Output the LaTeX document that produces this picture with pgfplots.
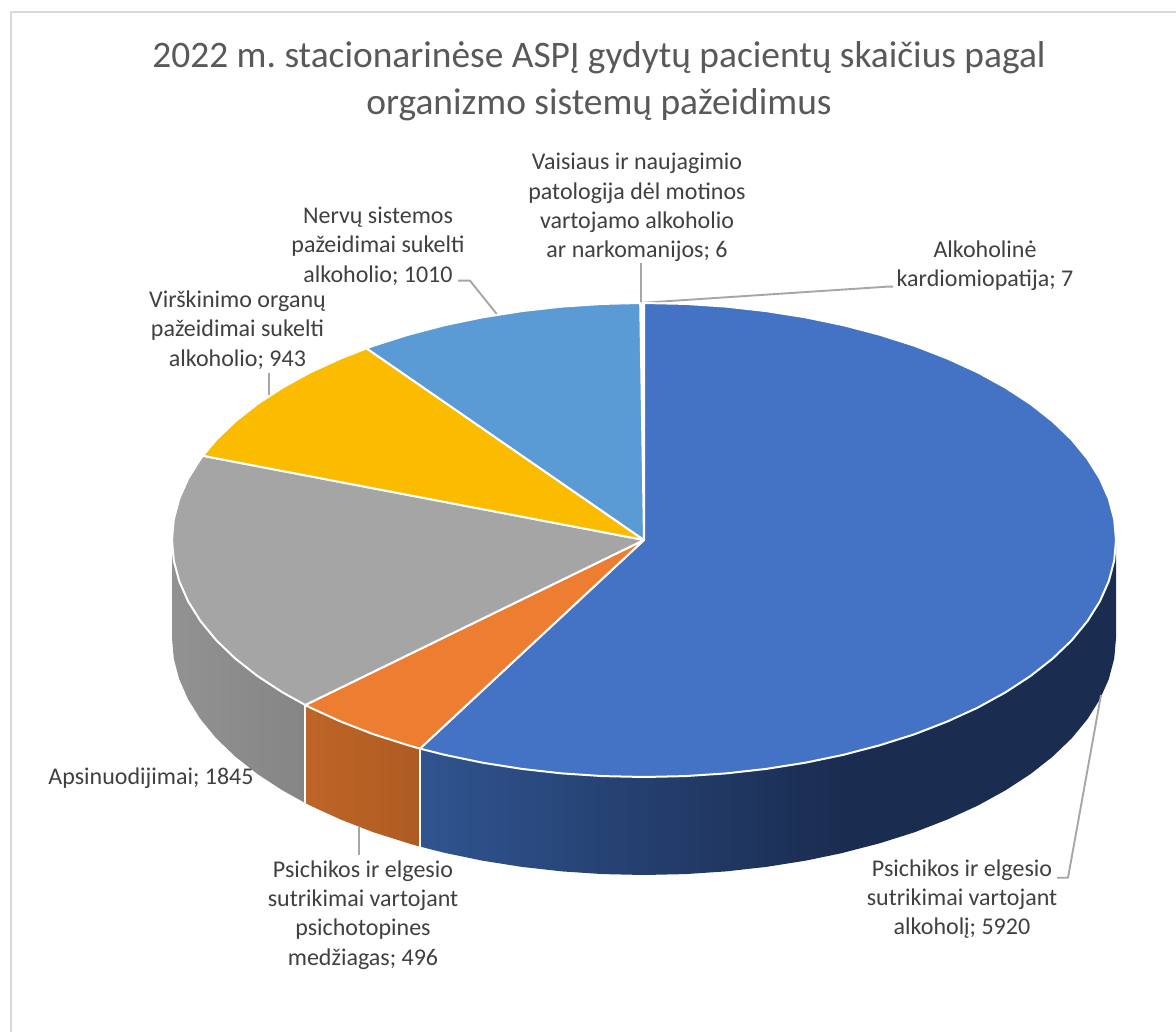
\documentclass[border=0pt]{standalone}
\usepackage{pgfplots}
\pgfplotsset{compat=1.18}
\usepackage{fontspec}
\setmainfont{Carlito}
\definecolor{cBlue}{HTML}{4472C4}
\definecolor{cOrange}{HTML}{ED7D31}
\definecolor{cGrey}{HTML}{A5A5A5}
\definecolor{cYellow}{HTML}{FBBC00}
\definecolor{cLight}{HTML}{5B9BD5}
\definecolor{sBlueA}{HTML}{305490}
\definecolor{sBlueB}{HTML}{1A2C50}
\definecolor{sOrA}{HTML}{BE6527}
\definecolor{sOrB}{HTML}{AE5B22}
\definecolor{sGrA}{HTML}{929292}
\definecolor{sGrB}{HTML}{858585}
\definecolor{lead}{HTML}{A6A6A6}
\definecolor{frameC}{HTML}{D9D9D9}
\definecolor{labC}{HTML}{404040}
\definecolor{titC}{HTML}{595959}
\tikzset{lab/.style={font=\frenchspacing\fontsize{24}{29.3}\selectfont, align=center, text=labC, inner sep=0pt}}
\begin{document}
\begin{tikzpicture}
\begin{axis}[
  scale only axis, width=1176pt, height=1032pt,
  xmin=0, xmax=1176, ymin=0, ymax=1032, y dir=reverse,
  hide axis, clip=true,
  every axis plot/.append style={mark=none, line join=round},
]
% page background and frame
\addplot[fill=white,draw=none] coordinates {(0,0)(1176,0)(1176,1032)(0,1032)} -- cycle;
\addplot[frameC,line width=2pt] coordinates {(11,1032) (11,12) (1176,12)};
% side faces
\addplot[draw=none,left color=sGrA,right color=sGrB] coordinates {(172,540)(173.8,560.7)(179.2,581.1)(188.1,601.3)(200.5,621.1)(216.2,640.2)(235.2,658.5)(257.3,675.9)(282.4,692.3)(305.3,705)(305.3,803)(282.4,790.3)(257.3,773.9)(235.2,756.5)(216.2,738.2)(200.5,719.1)(188.1,699.3)(179.2,679.1)(173.8,658.7)(172,638)} -- cycle;
\addplot[draw=none,left color=sOrA,right color=sOrB] coordinates {(305.3,705)(310.2,707.6)(340.6,721.5)(373.3,734.2)(408,745.2)(420,748.6)(420,846.6)(408,843.2)(373.3,832.2)(340.6,819.5)(310.2,805.6)(305.3,803)} -- cycle;
\addplot[draw=none,left color=sBlueA,right color=sBlueB] coordinates {(420,748.6)(444.5,754.8)(482.6,762.7)(521.8,768.9)(562,773.4)(602.8,776.1)(644,777)(685.2,776.1)(726,773.4)(766.2,768.9)(805.4,762.7)(843.5,754.8)(843.5,852.8)(805.4,860.7)(766.2,866.9)(726,871.4)(685.2,874.1)(644,875)(602.8,874.1)(562,871.4)(521.8,866.9)(482.6,860.7)(444.5,852.8)(420,846.6)} -- cycle;
\addplot[fill=sBlueB,draw=none] coordinates {(843,754.8)(880,745.2)(914.7,734.2)(947.4,721.5)(977.8,707.6)(1005.6,692.3)(1030.7,675.9)(1052.8,658.5)(1071.8,640.2)(1087.5,621.1)(1099.9,601.3)(1108.8,581.1)(1114.2,560.7)(1116,540)(1116,638)(1114.2,658.7)(1108.8,679.1)(1099.9,699.3)(1087.5,719.1)(1071.8,738.2)(1052.8,756.5)(1030.7,773.9)(1005.6,790.3)(977.8,805.6)(947.4,819.5)(914.7,832.2)(880,843.2)(843,852.8)} -- cycle;
% separators between side faces
\addplot[white,line width=2pt] coordinates {(305.3,705)(305.3,803)};
\addplot[white,line width=2pt] coordinates {(420,748.6)(420,846.6)};
% leaders
\addplot[lead,line width=1.9pt] coordinates {(644,302.7)(886.7,286.7)(893,286.7)};
\addplot[lead,line width=1.9pt] coordinates {(641.3,263.3)(641.3,302.7)};
\addplot[lead,line width=1.9pt] coordinates {(458,280.7)(470,280.7)(496.7,314)};
\addplot[lead,line width=1.9pt] coordinates {(269.3,372.7)(269.3,395)};
\addplot[lead,line width=1.9pt] coordinates {(359.3,826.7)(359.3,855)};
\addplot[lead,line width=1.9pt] coordinates {(1101,695)(1068,877.7)(1057,877.7)};
% top faces
\addplot[fill=cBlue,draw=white,line width=2pt] coordinates {(644,540)(644,303)(685.2,303.9)(726,306.6)(766.2,311.1)(805.4,317.3)(843.5,325.2)(880,334.8)(914.7,345.8)(947.4,358.5)(977.8,372.4)(1005.6,387.7)(1030.7,404.1)(1052.8,421.5)(1071.8,439.8)(1087.5,458.9)(1099.9,478.7)(1108.8,498.9)(1114.2,519.3)(1116,540)(1114.2,560.7)(1108.8,581.1)(1099.9,601.3)(1087.5,621.1)(1071.8,640.2)(1052.8,658.5)(1030.7,675.9)(1005.6,692.3)(977.8,707.6)(947.4,721.5)(914.7,734.2)(880,745.2)(843.5,754.8)(805.4,762.7)(766.2,768.9)(726,773.4)(685.2,776.1)(644,777)(602.8,776.1)(562,773.4)(521.8,768.9)(482.6,762.7)(444.5,754.8)(420,748.6)} -- cycle;
\addplot[fill=cOrange,draw=white,line width=2pt] coordinates {(644,540)(420,748.6)(408,745.2)(373.3,734.2)(340.6,721.5)(310.2,707.6)(305.3,705)} -- cycle;
\addplot[fill=cGrey,draw=white,line width=2pt] coordinates {(644,540)(305.3,705)(282.4,692.3)(257.3,675.9)(235.2,658.5)(216.2,640.2)(200.5,621.1)(188.1,601.3)(179.2,581.1)(173.8,560.7)(172,540)(173.8,519.3)(179.2,498.9)(188.1,478.7)(200.5,458.9)(202.8,455.8)} -- cycle;
\addplot[fill=cYellow,draw=white,line width=2pt] coordinates {(644,540)(202.8,455.8)(216.2,439.8)(235.2,421.5)(257.3,404.1)(282.4,387.7)(310.2,372.4)(340.6,358.5)(366.5,348.3)} -- cycle;
\addplot[fill=cLight,draw=white,line width=2pt] coordinates {(644,540)(366.5,348.3)(373.3,345.8)(408,334.8)(444.5,325.2)(482.6,317.3)(521.8,311.1)(562,306.6)(602.8,303.9)(640.2,303)} -- cycle;
\addplot[fill=white,draw=white,line width=0.6pt] coordinates {(644,540)(640.2,303)(644,303)} -- cycle;
% texts
\node[font=\frenchspacing\fontsize{37.4}{47}\selectfont,align=center,text=titC,inner sep=0pt] at (axis cs:599,81) {2022 m. stacionarinėse ASPĮ gydytų pacientų skaičius pagal\\organizmo sistemų pažeidimus};
\node[lab] at (axis cs:637,207.5) {Vaisiaus ir naujagimio\\patologija dėl motinos\\vartojamo alkoholio\\ar narkomanijos; 6};
\node[lab] at (axis cs:985,266) {Alkoholinė\\kardiomiopatija; 7};
\node[lab] at (axis cs:378,246) {Nervų sistemos\\pažeidimai sukelti\\alkoholio; 1010};
\node[lab] at (axis cs:237.5,330) {Virškinimo organų\\pažeidimai sukelti\\alkoholio; 943};
\node[lab] at (axis cs:151,778) {Apsinuodijimai; 1845};
\node[lab] at (axis cs:363,915) {Psichikos ir elgesio\\sutrikimai vartojant\\psichotopines\\medžiagas; 496};
\node[lab] at (axis cs:962,899) {Psichikos ir elgesio\\sutrikimai vartojant\\alkoholį; 5920};
\end{axis}
\end{tikzpicture}
\end{document}
